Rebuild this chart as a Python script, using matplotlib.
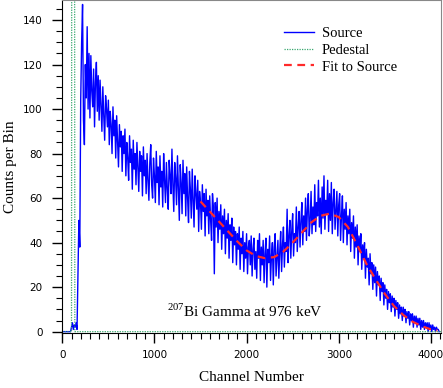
import matplotlib
matplotlib.use('Agg')
import matplotlib.pyplot as plt
from matplotlib.ticker import MultipleLocator

plt.rcParams['mathtext.fontset'] = 'custom'
plt.rcParams['mathtext.rm'] = 'Liberation Serif'

# source spectrum, one value every 10 channels
chan_step = 10
source_counts = [
    0, 0, 0, 0, 0, 0, 0, 0, 0, 0,
    2, 4, 1, 3, 2, 4, 1, 25, 50, 38,
    104, 130, 147, 95, 84, 120, 105, 137, 100, 125,
    96, 124, 108, 101, 118, 92, 112, 121, 99, 115,
    95, 113, 102, 90, 110, 97, 86, 106, 100, 92,
    104, 84, 99, 93, 80, 101, 88, 95, 78, 97,
    86, 74, 93, 83, 90, 72, 88, 80, 91, 70,
    85, 78, 68, 88, 76, 82, 64, 86, 73, 80,
    66, 85, 74, 63, 81, 72, 79, 61, 83, 70,
    77, 62, 80, 68, 59, 76, 84, 66, 60, 78,
    70, 58, 81, 67, 74, 57, 79, 65, 72, 56,
    80, 68, 58, 76, 64, 55, 77, 70, 62, 82,
    66, 54, 76, 69, 57, 79, 64, 50, 75, 67,
    53, 77, 62, 71, 52, 74, 60, 49, 72, 64,
    51, 73, 59, 47, 70, 62, 55, 68, 45, 63,
    58, 46, 66, 54, 62, 43, 64, 52, 59, 44,
    61, 50, 41, 62, 56, 26, 58, 47, 60, 40,
    54, 46, 57, 37, 52, 44, 55, 35, 50, 42,
    53, 33, 48, 41, 51, 31, 47, 39, 45, 30,
    44, 37, 47, 28, 42, 35, 45, 27, 40, 33,
    44, 26, 38, 41, 30, 43, 25, 37, 42, 28,
    36, 24, 41, 33, 44, 23, 38, 30, 41, 22,
    35, 42, 20, 37, 31, 43, 23, 34, 40, 21,
    38, 44, 25, 33, 41, 24, 36, 45, 27, 39,
    47, 29, 40, 36, 55, 31, 43, 50, 33, 45,
    53, 34, 44, 40, 56, 36, 47, 54, 38, 50,
    58, 39, 52, 45, 60, 41, 55, 62, 43, 50,
    63, 44, 56, 48, 66, 45, 58, 52, 68, 47,
    60, 44, 65, 51, 70, 46, 59, 53, 68, 45,
    62, 50, 67, 44, 58, 64, 46, 55, 63, 43,
    57, 62, 41, 52, 61, 40, 55, 46, 58, 39,
    52, 44, 55, 36, 49, 42, 52, 33, 47, 38,
    48, 30, 43, 36, 44, 28, 39, 33, 40, 24,
    37, 29, 33, 21, 35, 26, 31, 19, 30, 22,
    29, 16, 27, 21, 25, 14, 24, 18, 22, 12,
    21, 15, 19, 10, 18, 13, 17, 9, 16, 11,
    15, 7, 14, 10, 13, 6, 12, 8, 11, 5,
    11, 7, 10, 4, 9, 6, 9, 3, 8, 5,
    8, 2, 7, 4, 7, 2, 6, 3, 6, 1,
    5, 2, 5, 1, 4, 2, 4, 0, 4, 1,
    3, 0, 3, 1, 2, 0, 2, 1, 1, 0,
]
source_chan = [i * chan_step for i in range(len(source_counts))]

# pedestal peak (goes off scale)
ped_chan = [0, 100, 104, 110, 118, 126, 132, 136, 4110]
ped_counts = [0, 0, 300, 1500, 2400, 1500, 300, 0, 0]

# fit to the source
fit_chan = [1500, 1600, 1700, 1800, 1900, 2000, 2100, 2200, 2300, 2400,
            2500, 2600, 2700, 2800, 2900, 3000, 3100, 3200, 3300, 3400,
            3500, 3600, 3700, 3800, 3900, 4000, 4070]
fit_counts = [58.5, 54, 49.5, 45, 40.5, 36.5, 34, 33, 33.5, 36,
              40, 44.5, 49, 52, 53, 51.5, 47, 39, 30.5, 23.5,
              17, 11.5, 7.5, 4.5, 2.5, 1, 0.5]

fig = plt.figure(figsize=(4.43, 3.88), dpi=100)
ax = fig.add_axes([0.1406, 0.1418, 0.8549, 0.8582])

ax.plot(source_chan, source_counts, color='#0000ff', lw=1.0, label='Source')
ax.plot(ped_chan, ped_counts, color='#3aa870', lw=0.9, linestyle=(0, (1, 1)),
        label='Pedestal')
ax.plot(fit_chan, fit_counts, color='#ff2a2a', lw=1.6, linestyle=(0, (3.5, 2.5)),
        label='Fit to Source')

ax.set_xlim(0, 4110)
ax.set_ylim(-0.6, 149)

ax.xaxis.set_major_locator(MultipleLocator(1000))
ax.xaxis.set_minor_locator(MultipleLocator(100))
ax.yaxis.set_major_locator(MultipleLocator(20))
ax.yaxis.set_minor_locator(MultipleLocator(5))
ax.tick_params(which='major', direction='out', length=7, width=1, labelsize=7.5,
               colors='black')
ax.tick_params(which='minor', direction='out', length=4, width=0.8)
ax.tick_params(axis='y', which='major', pad=7)
ax.tick_params(axis='x', which='major', pad=5)
ax.spines['top'].set_color('#888888')
ax.spines['right'].set_color('#888888')

ax.set_xlabel('Channel Number', fontfamily='Liberation Serif', fontsize=11,
              labelpad=8)
ax.set_ylabel('Counts per Bin', fontfamily='Liberation Serif', fontsize=11,
              labelpad=4.5)

ax.text(1984, 9, r'$^{\mathrm{207}}$Bi Gamma at 976 keV',
        fontfamily='Liberation Serif', fontsize=11, ha='center', va='center')

ax.legend(loc='upper left', bbox_to_anchor=(0.585, 0.92), frameon=False,
          borderpad=0, borderaxespad=0, handlelength=2.1, handletextpad=0.5,
          labelspacing=0.25, prop={'family': 'Liberation Serif', 'size': 10.5})

fig.savefig('out.png', dpi=100)
